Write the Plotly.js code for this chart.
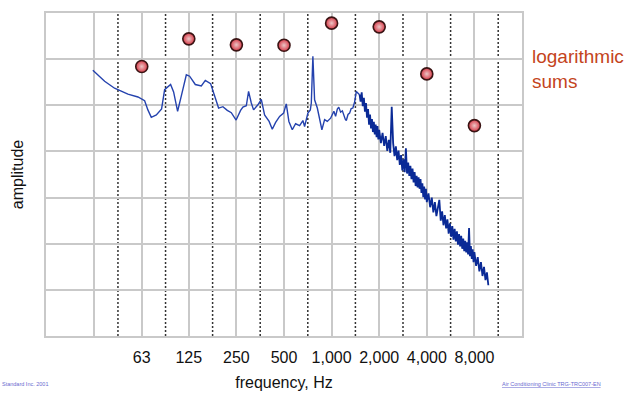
<!DOCTYPE html>
<html>
<head>
<meta charset="utf-8">
<script src="https://cdn.plot.ly/plotly-3.0.1.min.js"></script>
<style>html,body{margin:0;padding:0;background:#fff;}#chart{width:627px;height:394px;}</style>
</head>
<body>
<div id="chart"></div>
<script>
// Octave band centre frequencies (Hz) and their labels
const bandCenters = [31.5, 63, 125, 250, 500, 1000, 2000, 4000, 8000];
const bandLabels = ['', '63', '125', '250', '500', '1,000', '2,000', '4,000', '8,000'];

// Logarithmic sums per octave band (red dots)
const sumFreqs = [63, 125, 250, 500, 1000, 2000, 4000, 8000];
const sumValues = [5.84, 6.44, 6.31, 6.30, 6.78, 6.70, 5.68, 4.56];

// Narrow-band spectrum, low-frequency part: frequency (Hz) and amplitude (grid units)
const lowFreqs = [
  30.9, 36.7, 42.4, 51.5, 59.6, 65.7, 68.9, 72.4, 77.9, 84.1, 87.9, 95.9, 100.2, 106.2, 112.6,
  120.6, 126.5, 137.4, 150, 159, 171.7, 182, 192.9, 205.4, 218.9, 232.1, 249, 265.7, 274.9,
  288.8, 298.5, 310.6, 321, 342, 359.2, 376.8, 402.6, 421.5, 442.6, 469.1, 497.2, 516.9, 537,
  564.1, 592.1, 627.6, 658.4, 675, 708.1, 733.4, 744.2, 761.4, 780.6, 812.3, 839.7, 868.2,
  903.2, 939.5, 985.5, 1034, 1060, 1087, 1110, 1140, 1170, 1196, 1220, 1239, 1270, 1300, 1330,
  1363, 1400, 1433, 1503
];
const lowAmps = [
  5.76, 5.52, 5.37, 5.24, 5.18, 5.10, 4.90, 4.74, 4.79, 4.92, 5.34, 5.45, 5.29, 4.87, 5.23,
  5.66, 5.63, 5.45, 5.42, 5.54, 5.47, 5.19, 4.94, 4.97, 4.89, 4.84, 4.68, 4.89, 4.96,
  4.99, 5.30, 5.05, 4.90, 5.01, 5.13, 4.79, 4.65, 4.48, 4.63, 4.76, 4.83, 5.03, 4.65,
  4.47, 4.60, 4.56, 4.67, 4.54, 4.83, 4.90, 5.05, 6.06, 5.12, 4.94, 4.69, 4.47,
  4.69, 4.65, 4.72, 4.87, 4.76, 4.92, 4.96, 4.85, 4.88, 4.76, 4.70, 4.67, 4.80, 4.83, 4.93,
  4.94, 5.08, 5.30, 5.23
];

// Narrow-band spectrum, high-frequency (noisy) part
const highFreqs = [
  1503, 1525, 1550, 1575, 1600, 1625, 1650, 1675, 1700, 1725, 1750, 1775, 1800, 1825, 1850, 1875,
  1900, 1925, 1950, 1975, 2000,
  2050, 2100, 2150, 2200, 2250, 2300, 2350, 2400, 2450, 2500, 2550, 2600, 2650, 2700, 2750,
  2800, 2850, 2900, 2950, 3000, 3050, 3100, 3150, 3200, 3250, 3300, 3350, 3400, 3450, 3500,
  3550, 3600, 3650, 3700, 3750, 3800, 3850, 3900, 3950, 4000,
  4100, 4200, 4300, 4400, 4500, 4600, 4700, 4800, 4900, 5000, 5100, 5200, 5300, 5400, 5500,
  5600, 5700, 5800, 5900, 6000, 6100, 6200, 6300, 6400, 6500, 6600, 6700, 6800, 6900, 7000,
  7100, 7200, 7300, 7400, 7500, 7600, 7700, 7800, 7900, 8000,
  8200, 8400, 8600, 8800, 9000, 9200, 9400, 9600, 9800
];
const highAmps = [
  5.23, 5.08, 5.28, 4.98, 5.16, 4.86, 5.05, 4.73, 4.92, 4.58, 4.80, 4.50, 4.70, 4.42, 4.64, 4.37,
  4.58, 4.31, 4.55, 4.26, 4.47,
  4.18, 4.40, 4.12, 4.33, 4.01, 4.25, 3.97, 4.97, 4.18, 3.90, 4.11, 3.81, 4.02, 3.71, 3.92,
  3.59, 3.83, 3.55, 4.07, 3.52, 3.76, 3.47, 3.69, 3.40, 3.63, 3.33, 3.55, 3.25, 3.47, 3.22,
  3.44, 3.19, 3.40, 3.10, 3.31, 3.01, 3.24, 2.96, 3.19, 2.90,
  3.09, 2.79, 3.00, 2.68, 2.90, 2.60, 2.82, 2.95, 2.50, 2.70, 2.40, 2.62, 2.33, 2.53, 2.22,
  2.44, 2.15, 2.38, 2.09, 2.32, 2.05, 2.27, 1.98, 2.21, 1.94, 2.17, 1.89, 2.11, 1.84, 2.06,
  1.81, 2.03, 1.77, 2.34, 1.73, 1.95, 1.67, 1.88, 1.60, 1.82,
  1.52, 1.71, 1.40, 1.60, 1.30, 1.50, 1.21, 1.38, 1.10
];

// Dashed lines sit at the octave band edges (centre x sqrt(2))
const bandEdges = bandCenters.map(c => c * Math.SQRT2);

const gridCol = '#c9c9c9';
const font = 'Liberation Sans, Arial, sans-serif';

const traces = [
  {
    x: lowFreqs, y: lowAmps, type: 'scatter', mode: 'lines',
    line: {color: '#2442ae', width: 1.4},
    hoverinfo: 'skip', showlegend: false
  },
  {
    x: highFreqs, y: highAmps, type: 'scatter', mode: 'lines',
    line: {color: '#0a2a96', width: 1.8},
    hoverinfo: 'skip', showlegend: false
  },
  {
    x: sumFreqs, y: sumValues, type: 'scatter', mode: 'markers',
    marker: {
      size: 12, color: '#d63846',
      gradient: {type: 'radial', color: '#ecc6c6'},
      line: {color: '#3a1414', width: 1.6}
    },
    hoverinfo: 'skip', showlegend: false
  }
];

const shapes = bandEdges.map(e => ({
  type: 'line', xref: 'x', yref: 'paper', x0: e, x1: e, y0: 0, y1: 1,
  line: {color: '#333', width: 1.5, dash: '2px,2px'}, layer: 'between'
}));

const layout = {
  width: 627, height: 394,
  margin: {l: 46, r: 105, t: 13, b: 58},
  paper_bgcolor: '#fff', plot_bgcolor: '#fff',
  font: {family: font, color: '#111'},
  xaxis: {
    type: 'log',
    range: [Math.log10(15.625), Math.log10(16000)],
    tickvals: bandCenters, ticktext: bandLabels,
    tickfont: {size: 16, color: '#111'},
    ticks: 'outside', ticklen: 6, tickcolor: 'rgba(0,0,0,0)',
    showgrid: true, gridcolor: gridCol, gridwidth: 2,
    showline: true, linecolor: gridCol, linewidth: 2, mirror: true,
    zeroline: false,
    title: {text: 'frequency, Hz', font: {size: 16, color: '#111'}, standoff: 12}
  },
  yaxis: {
    range: [0, 7], tickvals: [1, 2, 3, 4, 5, 6],
    showticklabels: false, ticks: '',
    showgrid: true, gridcolor: gridCol, gridwidth: 2,
    showline: true, linecolor: gridCol, linewidth: 2, mirror: true,
    zeroline: false,
    title: {text: 'amplitude', font: {size: 16, color: '#111'}, standoff: 16}
  },
  shapes: shapes,
  annotations: [
    {
      text: 'logarithmic<br>sums', xref: 'paper', yref: 'paper',
      x: 1.017, y: 0.905, xanchor: 'left', yanchor: 'top', align: 'left',
      showarrow: false, font: {size: 19, color: '#c4441c', family: font}
    },
    {
      text: 'Standard Inc. 2001', xref: 'paper', yref: 'paper',
      x: -46/476, y: -48/323, xanchor: 'left', yanchor: 'middle',
      showarrow: false, font: {size: 5.5, color: '#6a6ad0', family: font}
    },
    {
      text: '<u>Air Conditioning Clinic TRG-TRC007-EN</u>', xref: 'paper', yref: 'paper',
      x: (500-46)/476, y: -48/323, xanchor: 'left', yanchor: 'middle',
      showarrow: false, font: {size: 5.5, color: '#6a6ad0', family: font}
    }
  ]
};

Plotly.newPlot('chart', traces, layout, {staticPlot: true, displayModeBar: false});
</script>
</body>
</html>
